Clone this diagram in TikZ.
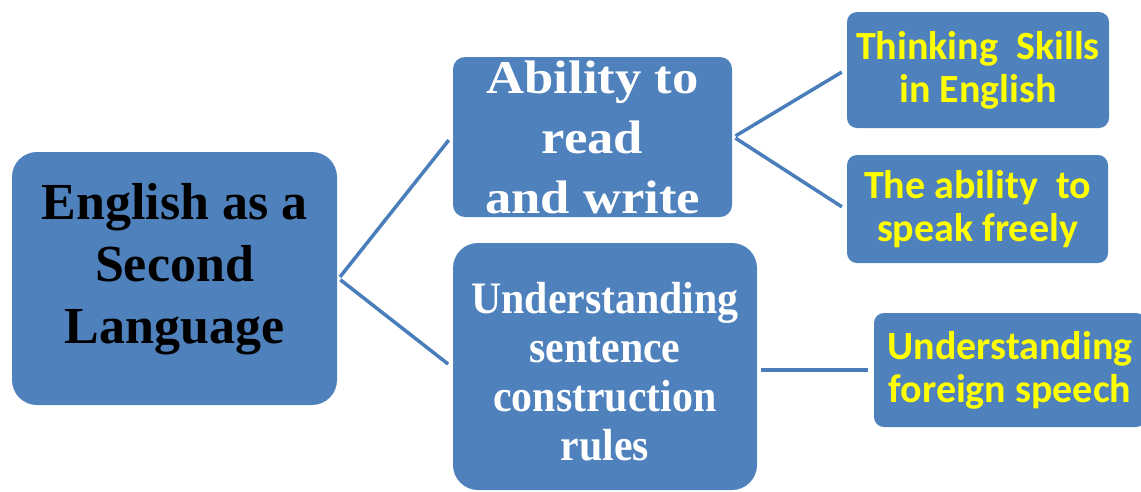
\documentclass[tikz,border=0pt]{standalone}
\usepackage{fontspec}
\setmainfont{Liberation Serif}
\newfontfamily\calibri{Carlito}
\newfontfamily\wideserif[FakeStretch=1.12]{Liberation Serif}
\newfontfamily\narrowserif[FakeStretch=0.93]{Liberation Serif}
\usepackage{tikz}
\definecolor{boxblue}{RGB}{79,129,189}
\definecolor{lineblue}{RGB}{74,126,187}
\definecolor{textyellow}{RGB}{255,255,0}

\begin{document}
\begin{tikzpicture}[x=1pt,y=1pt,draw=lineblue,line width=3.5pt]
    \tikzstyle{box}=[rectangle,fill=boxblue,draw=none,inner sep=0pt,align=center]
    \tikzstyle{main box}=[box,rounded corners=25pt,font=\bfseries\fontsize{52}{62}\selectfont]
    \tikzstyle{skill box}=[box,text=white,font=\bfseries]
    \tikzstyle{sub box}=[box,rounded corners=10pt,text=textyellow,font=\calibri\bfseries\fontsize{40}{43}\selectfont]
    \tikzstyle{link}=[shorten <=2pt,shorten >=4pt]

    \useasboundingbox (0,0) rectangle (1141,-491);

    % Draw the boxes
    \node[main box,minimum width=325pt,minimum height=253pt,text depth=31pt] (root) at (174.5,-278.5)
        {English as a\\Second\\Language};
    \node[skill box,rounded corners=12pt,minimum width=279pt,minimum height=160pt,
        font=\wideserif\bfseries\fontsize{47}{60}\selectfont] (S-1) at (592.5,-137)
        {Ability to\\read\\and write};
    \node[skill box,rounded corners=25pt,minimum width=304pt,minimum height=247pt,
        text height=187pt,text depth=0pt,
        font=\narrowserif\bfseries\fontsize{45}{49}\selectfont] (S-2) at (605,-366.5)
        {Understanding\\sentence\\construction\\rules};
    \node[sub box,minimum width=262pt,minimum height=116pt] (S-11) at (978,-70)
        {Thinking\ \ Skills\\in English};
    \node[sub box,minimum width=261pt,minimum height=108pt] (S-12) at (977.5,-209)
        {The ability\ \ to\\speak freely};
    \node[sub box,minimum width=272pt,minimum height=114pt] (S-21) at (1010,-370)
        {Understanding\\foreign speech};

    % Connect them
    \path (root.east) edge[link] (S-1.west);
    \path (root.east) edge[link] (S-2.west);
    \path (S-1.east) edge[link] (S-11.west);
    \path (S-1.east) edge[link] (S-12.west);
    \path (S-21.west -| S-2.east) edge[link] (S-21.west);
\end{tikzpicture}
\end{document}
